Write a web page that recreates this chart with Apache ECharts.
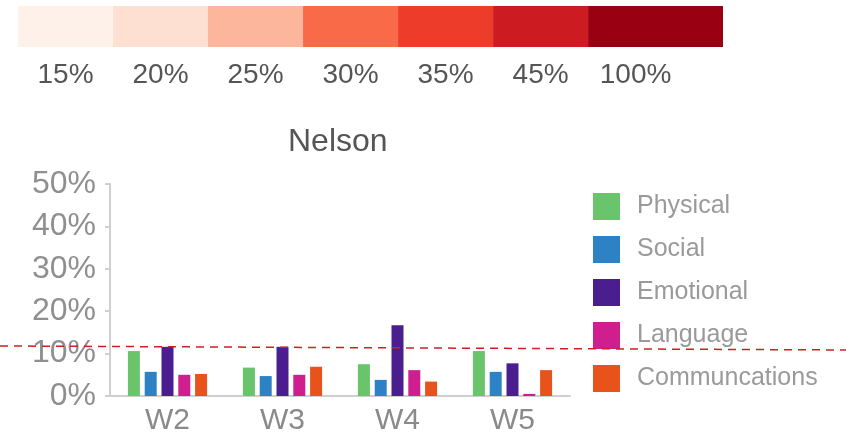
<!DOCTYPE html>
<html>
<head>
<meta charset="utf-8">
<script src="https://cdn.jsdelivr.net/npm/echarts@6/dist/echarts.min.js"></script>
<style>
  html, body { margin: 0; padding: 0; background: #fff; }
  #main { width: 846px; height: 439px; }
</style>
</head>
<body>
<div id="main"></div>
<script>
// chart data
var weeks = ['W2', 'W3', 'W4', 'W5'];
var seriesNames = ['Physical', 'Social', 'Emotional', 'Language', 'Communcations'];
var physical = [10.6, 6.7, 7.5, 10.6];
var social = [5.7, 4.7, 3.8, 5.7];
var emotional = [11.6, 11.6, 16.7, 7.7];
var language = [5.0, 5.0, 6.1, 0.5];
var communications = [5.2, 6.9, 3.4, 6.1];
var yTicks = [0, 10, 20, 30, 40, 50];

// colour scale on top
var scaleLabels = ['15%', '20%', '25%', '30%', '35%', '45%', '100%'];
var scaleSpan = [1, 1, 1, 1, 1, 1, 1.42];

// red dashed reference line (left end, right end)
var refLine = [11.8, 10.85];

var colors = ['#69c46b', '#2d82c6', '#4b1e8f', '#cf1f8e', '#e8531c'];
var scaleColors = ['#fdf1ea', '#fde0d2', '#fcb69c', '#f96a48', '#ee3c2b', '#cc1c21', '#990012'];

var myChart = echarts.init(document.getElementById('main'));

var values = [physical, social, emotional, language, communications];
var series = [];
for (var i = 0; i < seriesNames.length; i++) {
  series.push({
    name: seriesNames[i],
    type: 'bar',
    xAxisIndex: 0,
    yAxisIndex: 0,
    barWidth: 12,
    barGap: '40%',
    itemStyle: { color: colors[i] },
    data: values[i]
  });
}

// colour scale as stacked horizontal bars
for (var j = 0; j < scaleLabels.length; j++) {
  series.push({
    name: scaleLabels[j],
    type: 'bar',
    stack: 'scale',
    xAxisIndex: 1,
    yAxisIndex: 1,
    barWidth: 41,
    itemStyle: { color: scaleColors[j] },
    label: {
      show: true,
      position: 'bottom',
      distance: 14,
      formatter: scaleLabels[j],
      fontFamily: 'Liberation Sans',
      fontSize: 28,
      color: '#555',
      offset: j === scaleLabels.length - 1 ? [-20, 0] : [0, 0]
    },
    data: [scaleSpan[j]]
  });
}

series.push({
  name: 'ref',
  type: 'line',
  xAxisIndex: 2,
  yAxisIndex: 2,
  symbol: 'none',
  silent: true,
  lineStyle: { color: '#cc2020', width: 1.5, type: [8, 6] },
  data: [[0, refLine[0]], [1, refLine[1]]],
  z: 10
});

var option = {
  animation: false,
  title: {
    text: 'Nelson',
    left: 283,
    top: 121,
    textStyle: { fontFamily: 'Liberation Sans', fontSize: 32, fontWeight: 'normal', color: '#555' }
  },
  legend: {
    data: seriesNames,
    orient: 'vertical',
    left: 588,
    top: 188,
    itemWidth: 27,
    itemHeight: 27,
    itemGap: 16,
    icon: 'rect',
    textStyle: { fontFamily: 'Liberation Sans', fontSize: 25, color: '#9a9a9a', padding: [0, 0, 0, 12] }
  },
  grid: [
    { left: 110, right: 276, top: 184, bottom: 43 },
    { left: 18, right: 123, top: 6, height: 41 },
    { left: 0, right: 0, top: 184, bottom: 43 }
  ],
  xAxis: [
    {
      gridIndex: 0,
      type: 'category',
      data: weeks,
      axisLine: { lineStyle: { color: '#cfcfcf', width: 2 } },
      axisTick: { show: false },
      axisLabel: { fontFamily: 'Liberation Sans', fontSize: 30, color: '#8a8a8a', margin: 10 }
    },
    { gridIndex: 1, type: 'value', min: 0, max: 7.42, show: false },
    { gridIndex: 2, type: 'value', min: 0, max: 1, show: false }
  ],
  yAxis: [
    {
      gridIndex: 0,
      type: 'value',
      min: yTicks[0],
      max: yTicks[yTicks.length - 1],
      interval: 10,
      axisLine: { show: true, lineStyle: { color: '#d0d0d0', width: 2 } },
      axisTick: { show: true, length: 5, lineStyle: { color: '#d0d0d0', width: 2 } },
      splitLine: { show: false },
      axisLabel: { formatter: '{value}%', fontFamily: 'Liberation Sans', fontSize: 32, color: '#8f8f8f', margin: 14 }
    },
    { gridIndex: 1, type: 'category', data: ['scale'], show: false },
    { gridIndex: 2, type: 'value', min: 0, max: 50, show: false }
  ],
  series: series
};

myChart.setOption(option);
</script>
</body>
</html>
